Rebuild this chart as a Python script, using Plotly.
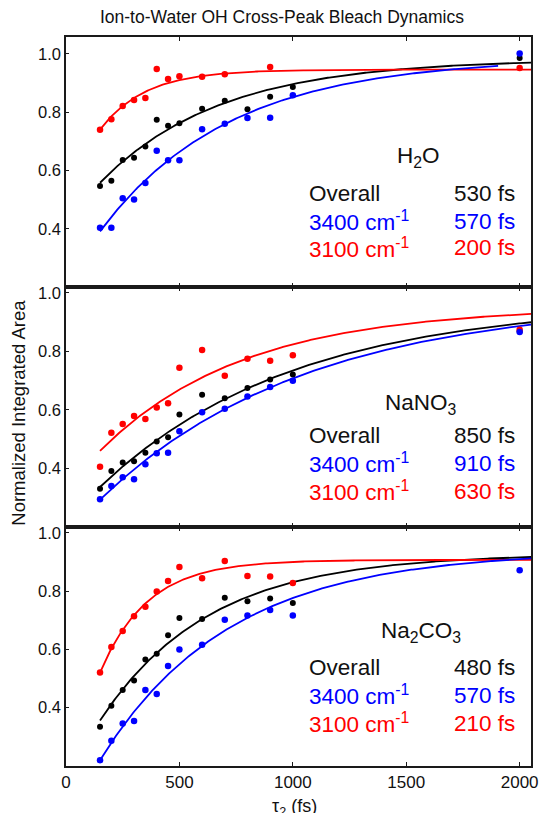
import numpy as np
import plotly.graph_objects as go

# ---------------- data ----------------
tau_fs = [150, 200, 250, 300, 350, 400, 450, 500, 600, 700, 800, 900, 1000, 2000]

# H2O panel
h2o_overall = [0.547, 0.565, 0.636, 0.644, 0.682, 0.774, 0.753, 0.762, 0.812, 0.839, 0.810, 0.853, 0.886, 0.986]
h2o_3400 = [0.403, 0.403, 0.505, 0.500, 0.557, 0.668, 0.635, 0.635, 0.741, 0.760, 0.780, 0.781, 0.858, 1.001]
h2o_3100_x = [150, 200, 250, 300, 350, 400, 450, 500, 600, 700, 900, 2000]
h2o_3100 = [0.740, 0.776, 0.821, 0.842, 0.849, 0.948, 0.914, 0.923, 0.922, 0.930, 0.955, 0.952]

# NaNO3 panel
nano3_overall = [0.331, 0.391, 0.420, 0.425, 0.454, 0.492, 0.507, 0.584, 0.652, 0.640, 0.675, 0.704, 0.721, 0.868]
nano3_3400 = [0.295, 0.340, 0.370, 0.363, 0.414, 0.452, 0.454, 0.527, 0.592, 0.604, 0.646, 0.678, 0.700, 0.866]
nano3_3100 = [0.406, 0.522, 0.552, 0.579, 0.569, 0.608, 0.623, 0.744, 0.805, 0.717, 0.775, 0.768, 0.787, 0.874]

# Na2CO3 panel
na2co3_x = [150, 200, 250, 300, 350, 400, 450, 500, 600, 700, 800, 900, 1000]
na2co3_overall = [0.335, 0.407, 0.461, 0.493, 0.565, 0.585, 0.649, 0.708, 0.704, 0.777, 0.765, 0.775, 0.759]
na2co3_3400_x = [150, 200, 250, 300, 350, 400, 450, 500, 600, 700, 800, 900, 1000, 2000]
na2co3_3400 = [0.220, 0.287, 0.346, 0.354, 0.461, 0.447, 0.543, 0.600, 0.616, 0.702, 0.716, 0.735, 0.716, 0.872]
na2co3_3100 = [0.521, 0.608, 0.663, 0.714, 0.746, 0.799, 0.835, 0.883, 0.844, 0.903, 0.852, 0.850, 0.828]

# exponential fits: y = plateau - amp * exp(-t / tau); [overall, 3400, 3100]
fit_tau = {"H2O": [530, 570, 200], "NaNO3": [850, 910, 630], "Na2CO3": [480, 570, 210]}
fit_plateau = {"H2O": [0.982, 0.986, 0.946], "NaNO3": [0.967, 0.976, 0.952], "Na2CO3": [0.928, 0.938, 0.907]}
fit_amp = {"H2O": [0.563, 0.774, 0.436], "NaNO3": [0.752, 0.805, 0.6245], "Na2CO3": [0.782, 0.934, 0.789]}
fit_end = {"H2O": [2050, 1905, 2050], "NaNO3": [2050, 2050, 2050], "Na2CO3": [2050, 2050, 2050]}
fit_start = 150

ytick_vals = [0.4, 0.6, 0.8, 1.0]
ytick_text = ["0.4", "0.6", "0.8", "1.0"]
xtick_vals = [0, 500, 1000, 1500, 2000]
xtick_text = ["0", "500", "1000", "1500", "2000"]

labels_fs = {"H2O": ["530 fs", "570 fs", "200 fs"],
             "NaNO3": ["850 fs", "910 fs", "630 fs"],
             "Na2CO3": ["480 fs", "570 fs", "210 fs"]}
row_names = ["Overall", "3400 cm<sup>-1</sup>", "3100 cm<sup>-1</sup>"]
chem_names = {"H2O": "H<sub>2</sub>O", "NaNO3": "NaNO<sub>3</sub>", "Na2CO3": "Na<sub>2</sub>CO<sub>3</sub>"}

# ---------------- styling / layout ----------------
BLACK, BLUE, RED = "#000000", "#0000ff", "#ff0000"
colors = [BLACK, BLUE, RED]
FONT = "Liberation Sans, Arial, sans-serif"
W, H = 549, 813
ML, MR, MT, MB = 66, 11, 37, 47
PW, PH = W - ML - MR, H - MT - MB

def pxy(px, py):
    return (px - ML) / PW, (H - MB - py) / PH

def ydom(top_px, bot_px):
    return [(H - MB - bot_px) / PH, (H - MB - top_px) / PH]

panels = ["H2O", "NaNO3", "Na2CO3"]
domains = [ydom(37, 287), ydom(287, 527), ydom(527, 766)]
yranges = [[0.2, 1.058], [0.2, 1.02], [0.2, 1.02]]

fig = go.Figure()

points = {
    "H2O": [(tau_fs, h2o_overall), (tau_fs, h2o_3400), (h2o_3100_x, h2o_3100)],
    "NaNO3": [(tau_fs, nano3_overall), (tau_fs, nano3_3400), (tau_fs, nano3_3100)],
    "Na2CO3": [(na2co3_x, na2co3_overall), (na2co3_3400_x, na2co3_3400), (na2co3_x, na2co3_3100)],
}

draw_order = [0, 2, 1]  # black, red, blue on top
for i, p in enumerate(panels):
    xa = "x" if i == 0 else f"x{i+1}"
    ya = "y" if i == 0 else f"y{i+1}"
    for k in draw_order:
        t = np.linspace(fit_start, fit_end[p][k], 300)
        y = fit_plateau[p][k] - fit_amp[p][k] * np.exp(-t / fit_tau[p][k])
        fig.add_trace(go.Scatter(x=t, y=y, mode="lines", line=dict(color=colors[k], width=1.8),
                                 xaxis=xa, yaxis=ya, showlegend=False, hoverinfo="skip"))
    for k in draw_order:
        xs, ys = points[p][k]
        fig.add_trace(go.Scatter(x=xs, y=ys, mode="markers",
                                 marker=dict(color=colors[k], size=6.5 if k else 6),
                                 xaxis=xa, yaxis=ya, showlegend=False))

axis_line = dict(showline=True, linecolor="#1a1a1a", linewidth=1.5, showgrid=False, zeroline=False)
layout = dict(width=W, height=H, margin=dict(l=ML, r=MR, t=MT, b=MB),
              paper_bgcolor="white", plot_bgcolor="white",
              font=dict(family=FONT, color="#111111"))
for i in range(3):
    xk = "xaxis" if i == 0 else f"xaxis{i+1}"
    yk = "yaxis" if i == 0 else f"yaxis{i+1}"
    ya = "y" if i == 0 else f"y{i+1}"
    xa = "x" if i == 0 else f"x{i+1}"
    layout[xk] = dict(axis_line, anchor=ya, domain=[0, 1], range=[0, 2050], mirror="ticks",
                      ticks="inside", ticklen=4, tickwidth=1.3, tickcolor="#1a1a1a",
                      tickvals=xtick_vals, ticktext=xtick_text,
                      showticklabels=(i == 2), tickfont=dict(size=17, family=FONT, color="#111111"))
    if i > 0:
        layout[xk]["matches"] = "x"
    layout[yk] = dict(axis_line, anchor=xa, domain=domains[i], range=yranges[i], mirror=True,
                      ticks="inside", ticklen=3, tickwidth=1.3, tickcolor="#1a1a1a",
                      tickvals=ytick_vals, ticktext=ytick_text,
                      tickfont=dict(size=16.5, family=FONT, color="#111111"))
fig.update_layout(**layout)

# title
fig.update_layout(title=dict(text="Ion-to-Water OH Cross-Peak Bleach Dynamics",
                             x=282 / W, y=1 - 17 / H, xanchor="center", yanchor="middle",
                             font=dict(size=17.5, family=FONT, color="#111111")))

ann = []
def add_text(text, px, py, xanchor, color, size=22.5, angle=0):
    x, y = pxy(px, py)
    ann.append(dict(text=text, x=x, y=y, xref="paper", yref="paper", xanchor=xanchor,
                    yanchor="middle", showarrow=False, textangle=angle,
                    font=dict(size=size, family=FONT, color=color)))

# axis titles
add_text("Normalized Integrated Area", 18, 413, "center", "#111111", size=18.5, angle=-90)
ann.append(dict(text="τ<sub>2</sub> (fs)", x=pxy(298, 0)[0], y=pxy(0, 794)[1], xref="paper", yref="paper",
                xanchor="center", yanchor="top", showarrow=False,
                font=dict(size=18, family=FONT, color="#111111")))

chem_pos = {"H2O": (424, 157), "NaNO3": (426, 404), "Na2CO3": (426, 632)}
row_y = {"H2O": [193, 221, 248], "NaNO3": [435, 463, 491], "Na2CO3": [667, 695, 723]}
for p in panels:
    cx, cy = chem_pos[p]
    add_text(chem_names[p], cx, cy, "center", "#111111")
    for k in range(3):
        add_text(row_names[k], 311, row_y[p][k], "left", colors[k] if k else "#111111")
        add_text(labels_fs[p][k], 524, row_y[p][k], "right", colors[k] if k else "#111111")

fig.update_layout(annotations=ann)
fig.write_html("out.html")
